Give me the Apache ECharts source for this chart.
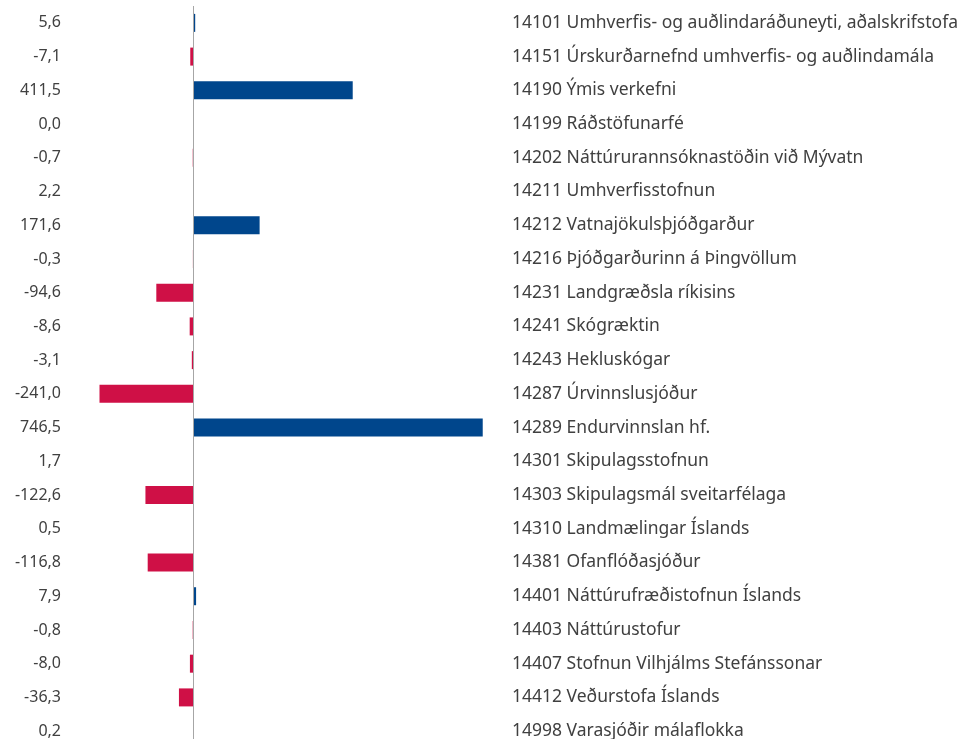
<!DOCTYPE html>
<html>
<head>
<meta charset="utf-8">
<script src="https://cdn.jsdelivr.net/npm/echarts@6/dist/echarts.min.js"></script>
<style>
  html, body { margin: 0; padding: 0; background: #fff; }
  #main { width: 965px; height: 739px; }
</style>
</head>
<body>
<div id="main"></div>
<script>
// Stofnanir (flokkar) og breyting í m.kr.
var categories = [
  '14101 Umhverfis- og auðlindaráðuneyti, aðalskrifstofa',
  '14151 Úrskurðarnefnd umhverfis- og auðlindamála',
  '14190 Ýmis verkefni',
  '14199 Ráðstöfunarfé',
  '14202 Náttúrurannsóknastöðin við Mývatn',
  '14211 Umhverfisstofnun',
  '14212 Vatnajökulsþjóðgarður',
  '14216 Þjóðgarðurinn á Þingvöllum',
  '14231 Landgræðsla ríkisins',
  '14241 Skógræktin',
  '14243 Hekluskógar',
  '14287 Úrvinnslusjóður',
  '14289 Endurvinnslan hf.',
  '14301 Skipulagsstofnun',
  '14303 Skipulagsmál sveitarfélaga',
  '14310 Landmælingar Íslands',
  '14381 Ofanflóðasjóður',
  '14401 Náttúrufræðistofnun Íslands',
  '14403 Náttúrustofur',
  '14407 Stofnun Vilhjálms Stefánssonar',
  '14412 Veðurstofa Íslands',
  '14998 Varasjóðir málaflokka'
];
var values = [5.6, -7.1, 411.5, 0.0, -0.7, 2.2, 171.6, -0.3, -94.6, -8.6, -3.1,
  -241.0, 746.5, 1.7, -122.6, 0.5, -116.8, 7.9, -0.8, -8.0, -36.3, 0.2];

var BLUE = '#00468c';
var RED = '#cf1046';

function fmt(v) {
  return v.toFixed(1).replace('.', ',');
}

var chart = echarts.init(document.getElementById('main'));
var option = {
  animation: false,
  textStyle: { fontFamily: 'Noto Sans' },
  grid: { left: 70, right: 465, top: 6, height: 742, outerBoundsMode: 'none' },
  xAxis: {
    type: 'value',
    min: -317,
    max: 791,
    show: false
  },
  yAxis: [{
    type: 'category',
    data: categories,
    inverse: true,
    position: 'left',
    axisLine: { show: false, onZero: false },
    axisTick: { show: false },
    axisLabel: {
      margin: 9,
      fontSize: 16,
      color: '#404040',
      formatter: function (v, i) { return fmt(values[i]); }
    }
  }, {
    type: 'category',
    data: categories,
    inverse: true,
    position: 'right',
    axisLine: { show: false, onZero: false },
    axisTick: { show: false },
    axisLabel: {
      margin: 12,
      fontSize: 17.5,
      color: '#404040'
    }
  }],
  series: [{
    type: 'bar',
    barWidth: 18,
    data: values.map(function (v) {
      return { value: v, itemStyle: { color: v < 0 ? RED : BLUE } };
    }),
    markLine: {
      silent: true,
      symbol: 'none',
      label: { show: false },
      lineStyle: { color: '#a6a6a6', width: 1, type: 'solid' },
      data: [{ xAxis: 0 }]
    }
  }]
};
chart.setOption(option);
</script>
</body>
</html>
